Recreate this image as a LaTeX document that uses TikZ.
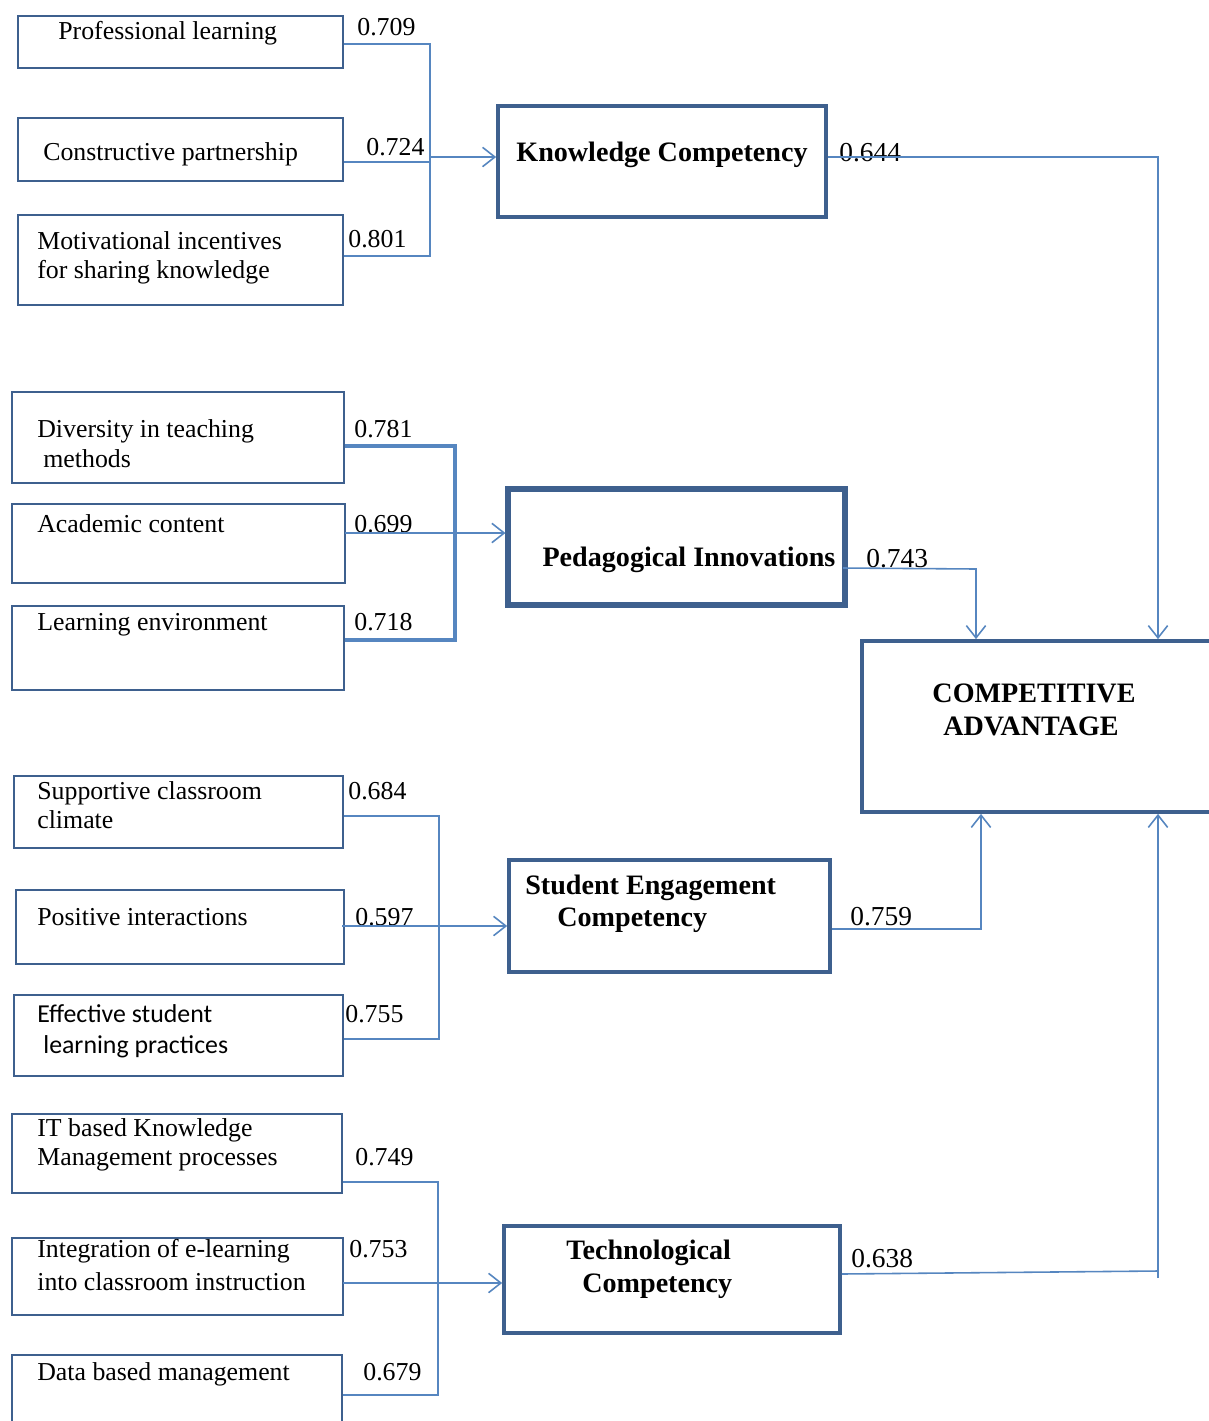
\documentclass[tikz,border=0pt]{standalone}
\usepackage{fontspec}
\setmainfont{Liberation Serif}
\newfontfamily\carlitofont{Carlito}
\usetikzlibrary{arrows.meta,fit}
\definecolor{boxc}{RGB}{62,96,142}
\definecolor{linec}{RGB}{86,134,192}
\begin{document}
\begin{tikzpicture}[x=0.02cm,y=-0.02cm,
  smallbox/.style={draw=boxc,line width=1.4pt,inner sep=0pt,rectangle},
  bigbox/.style={draw=boxc,line width=2.1pt,inner sep=0pt,rectangle},
  conn/.style={draw=linec,line width=0.9pt},
  thickconn/.style={draw=linec,line width=2pt},
  arr/.style={draw=linec,line width=0.9pt,-{Straight Barb[length=7pt,width=11pt,line width=0.9pt]}},
  txt/.style={anchor=base west,inner sep=0pt,font=\fontsize{14.7}{17}\selectfont},
  stxt/.style={anchor=base west,inner sep=0pt,font=\fontsize{14.7}{17}\selectfont\carlitofont},
  num/.style={anchor=base west,inner sep=0pt,font=\fontsize{14.7}{17}\selectfont},
  rnum/.style={anchor=base west,inner sep=0pt,font=\fontsize{15.6}{18}\selectfont},
  btxt/.style={anchor=base,inner sep=0pt,font=\fontsize{16}{19}\selectfont\bfseries},
  btxtw/.style={anchor=base west,inner sep=0pt,font=\fontsize{16}{19}\selectfont\bfseries}]
\useasboundingbox[fill=white] (0,0) rectangle (1209,1421);

% ---------- boxes ----------
\node[smallbox,fit={(18,16)(343,68)}] (PL) {};
\node[smallbox,fit={(18,118)(343,181)}] (CP) {};
\node[smallbox,fit={(18,215)(343,305)}] (MI) {};
\node[bigbox,fit={(498,106)(826,217)}] (KC) {};

\node[smallbox,fit={(12,392)(344,483)}] (DT) {};
\node[smallbox,fit={(12,504)(345,583)}] (AC) {};
\node[smallbox,fit={(12,606)(344,690)}] (LE) {};
\node[draw=boxc,line width=2.9pt,inner sep=0pt,rectangle,fit={(508,489)(845,605)}] (PI) {};

\node[bigbox,fit={(862,641)(1216,812)}] (CA) {};

\node[smallbox,fit={(14,776)(343,848)}] (SC) {};
\node[smallbox,fit={(16,890)(344,964)}] (PIn) {};
\node[smallbox,fit={(14,995)(343,1076)}] (ES) {};
\node[bigbox,fit={(509,860)(830,972)}] (SE) {};

\node[smallbox,fit={(12,1114)(342,1193)}] (IT) {};
\node[smallbox,fit={(12,1238)(343,1315)}] (IE) {};
\node[smallbox,fit={(12,1355)(342,1440)}] (DB) {};
\node[bigbox,fit={(504,1226)(840,1333)}] (TC) {};

% ---------- texts ----------
\node[txt] (tPL) at (58,39) {Professional learning};
\node[txt] (tCP) at (43,160) {Constructive partnership};
\node[txt] (tMIa) at (37,249) {Motivational incentives};
\node[txt] (tMIb) at (37,278) {for sharing knowledge};
\node[btxt] (tKC) at (662,161) {Knowledge Competency};

\node[txt] (tDTa) at (37,437) {Diversity in teaching};
\node[txt] (tDTb) at (43,467) {methods};
\node[txt] (tAC) at (37,532) {Academic content};
\node[txt] (tLE) at (37,630) {Learning environment};
\node[btxt] (tPI) at (689,566) {Pedagogical Innovations};

\node[btxt] (tCAa) at (1034,702) {COMPETITIVE};
\node[btxt] (tCAb) at (1031,735) {ADVANTAGE};

\node[txt] (tSCa) at (37,799) {Supportive classroom};
\node[txt] (tSCb) at (37,828) {climate};
\node[txt] (tPIn) at (37,925) {Positive interactions};
\node[stxt] (tESa) at (37,1022) {Effective student};
\node[stxt] (tESb) at (43,1053) {learning practices};
\node[btxtw] (tSEa) at (525,894) {Student Engagement};
\node[btxtw] (tSEb) at (557,926) {Competency};

\node[txt] (tITa) at (37,1136) {IT based Knowledge};
\node[txt] (tITb) at (37,1165) {Management processes};
\node[txt] (tIEa) at (37,1257) {Integration of e-learning};
\node[txt] (tIEb) at (37,1290) {into classroom instruction};
\node[txt] (tDB) at (37,1380) {Data based management};
\node[btxtw] (tTCa) at (566,1259) {Technological};
\node[btxtw] (tTCb) at (582,1292) {Competency};

% ---------- numbers ----------
\node[num] (n709) at (357,35) {0.709};
\node[num] (n724) at (366,155) {0.724};
\node[num] (n801) at (348,247) {0.801};
\node[rnum] (n644) at (839,161) {0.644};
\node[num] (n781) at (354,437) {0.781};
\node[num] (n699) at (354,532) {0.699};
\node[num] (n718) at (354,630) {0.718};
\node[rnum] (n743) at (866,567) {0.743};
\node[num] (n684) at (348,799) {0.684};
\node[num] (n597) at (355,925) {0.597};
\node[num] (n755) at (345,1022) {0.755};
\node[rnum] (n759) at (850,925) {0.759};
\node[num] (n749) at (355,1165) {0.749};
\node[num] (n753) at (349,1257) {0.753};
\node[num] (n679) at (363,1380) {0.679};
\node[rnum] (n638) at (851,1267) {0.638};

% ---------- junction coordinates ----------
\coordinate (j1) at (430,157);
\coordinate (j2) at (345,533);
\coordinate (j3) at (342,926);
\coordinate (j4) at (343,1283);
\coordinate (k1) at (1158,157);
\coordinate (k2) at (976,569);
\coordinate (k3) at (981,929);
\coordinate (k4) at (1158,1271);

% ---------- group 1 ----------
\draw[conn] (PL.east |- 0,44) -- (430,44) -- (430,256) -- (MI.east |- 0,256);
\draw[conn] (CP.east |- 0,162) -- (430,162);
\draw[arr] (j1) -- (KC.west |- j1);

% ---------- group 2 ----------
\draw[thickconn] (DT.east |- 0,446) -- (455,446) -- (455,640) -- (LE.east |- 0,640);
\draw[arr] (j2) -- (PI.west |- j2);

% ---------- group 3 ----------
\draw[conn] (SC.east |- 0,816) -- (439,816) -- (439,1039) -- (ES.east |- 0,1039);
\draw[arr] (j3) -- (SE.west |- j3);

% ---------- group 4 ----------
\draw[conn] (IT.east |- 0,1182) -- (438,1182) -- (438,1395) -- (DB.east |- 0,1395);
\draw[arr] (j4) -- (TC.west |- j4);

% ---------- to competitive advantage ----------
\draw[arr] (KC.east |- k1) -- (k1) -- (k1 |- CA.north);
\draw[arr] (843,568) -- (k2) -- (k2 |- CA.north);
\draw[arr] (SE.east |- k3) -- (k3) -- (k3 |- CA.south);
\draw[conn] (TC.east |- 0,1274) -- (k4);
\draw[arr] (1158,1278) -- (1158,0 |- CA.south);
\end{tikzpicture}
\end{document}
